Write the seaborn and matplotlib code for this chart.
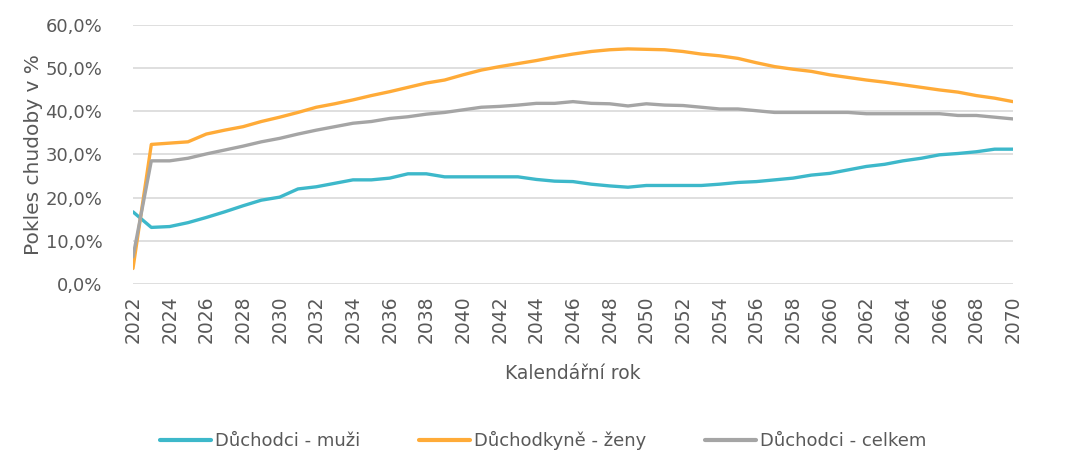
"""Pokles chudoby důchodců podle pohlaví, 2022-2070."""

import matplotlib.pyplot as plt
import matplotlib.ticker as mticker
import pandas as pd
import seaborn as sns

YEARS = list(range(2022, 2071))

MUZI = [
    16.7, 13.1, 13.3, 14.2, 15.4, 16.7, 18.1, 19.4, 20.1, 22.0,
    22.5, 23.3, 24.1, 24.1, 24.5, 25.5, 25.5, 24.8, 24.8, 24.8,
    24.8, 24.8, 24.2, 23.8, 23.7, 23.1, 22.7, 22.4, 22.8, 22.8,
    22.8, 22.8, 23.1, 23.5, 23.7, 24.1, 24.5, 25.2, 25.6, 26.4,
    27.2, 27.7, 28.5, 29.1, 29.9, 30.2, 30.6, 31.2, 31.2,
]
ZENY = [
    3.6, 32.3, 32.6, 32.9, 34.7, 35.6, 36.4, 37.6, 38.6, 39.7,
    40.9, 41.7, 42.6, 43.6, 44.5, 45.5, 46.5, 47.2, 48.4, 49.5,
    50.3, 51.0, 51.7, 52.5, 53.2, 53.8, 54.2, 54.4, 54.3, 54.2,
    53.8, 53.2, 52.8, 52.2, 51.2, 50.3, 49.7, 49.2, 48.4, 47.8,
    47.2, 46.7, 46.1, 45.5, 44.9, 44.4, 43.6, 43.0, 42.2,
]
CELKEM = [
    6.3, 28.5, 28.5, 29.1, 30.1, 31.0, 31.9, 32.9, 33.7, 34.7,
    35.6, 36.4, 37.2, 37.6, 38.3, 38.7, 39.3, 39.7, 40.3, 40.9,
    41.1, 41.4, 41.8, 41.8, 42.2, 41.8, 41.7, 41.2, 41.7, 41.4,
    41.3, 40.9, 40.5, 40.5, 40.1, 39.7, 39.7, 39.7, 39.7, 39.7,
    39.4, 39.4, 39.4, 39.4, 39.4, 39.0, 39.0, 38.6, 38.2,
]

SERIES = ["Důchodci - muži", "Důchodkyně - ženy", "Důchodci - celkem"]
COLORS = ["#3DB8CA", "#FFAB38", "#A5A5A5"]
TEXT_COLOR = "#595959"


def build_frame() -> pd.DataFrame:
    frames = []
    for name, values in zip(SERIES, [MUZI, ZENY, CELKEM]):
        frames.append(pd.DataFrame({"rok": YEARS, "hodnota": [v / 100 for v in values], "serie": name}))
    return pd.concat(frames, ignore_index=True)


def main() -> None:
    sns.set_theme(style="white")
    plt.rcParams["font.family"] = ["DejaVu Sans"]

    df = build_frame()

    fig = plt.figure(figsize=(10.82, 4.53), dpi=100)
    ax = fig.add_axes([0.1229, 0.373, 0.8133, 0.5725])

    sns.lineplot(
        data=df, x="rok", y="hodnota", hue="serie", hue_order=SERIES,
        palette=COLORS, linewidth=2.4, ax=ax, legend=False,
    )

    ax.set_xlim(2022, 2070)
    ax.set_ylim(0, 0.6)
    ax.set_xticks(range(2022, 2071, 2))
    ax.set_yticks([i / 10 for i in range(7)])
    ax.yaxis.set_major_formatter(mticker.FuncFormatter(lambda v, _: f"{v * 100:.1f}%".replace(".", ",")))
    ax.tick_params(axis="x", labelrotation=90, length=0, pad=8, labelsize=13.5, colors=TEXT_COLOR)
    ax.tick_params(axis="y", length=0, pad=22, labelsize=13, colors=TEXT_COLOR)

    ax.grid(axis="y", color="#D9D9D9", linewidth=1.2)
    ax.set_axisbelow(True)
    for side in ["top", "right", "left", "bottom"]:
        ax.spines[side].set_visible(False)

    ax.set_xlabel("Kalendářní rok", fontsize=13.5, color=TEXT_COLOR, labelpad=15)
    ax.set_ylabel("Pokles chudoby v %", fontsize=14.5, color=TEXT_COLOR, labelpad=2)

    handles = [plt.Line2D([], [], color=c, linewidth=3) for c in COLORS]
    fig.legend(
        handles, SERIES, loc="center", bbox_to_anchor=(0.502, 0.028), ncol=3,
        frameon=False, fontsize=13, handlelength=2.8, handletextpad=0.2,
        columnspacing=3.3, labelcolor=TEXT_COLOR,
    )

    fig.savefig("out.png", dpi=100)
    plt.close(fig)


if __name__ == "__main__":
    main()
